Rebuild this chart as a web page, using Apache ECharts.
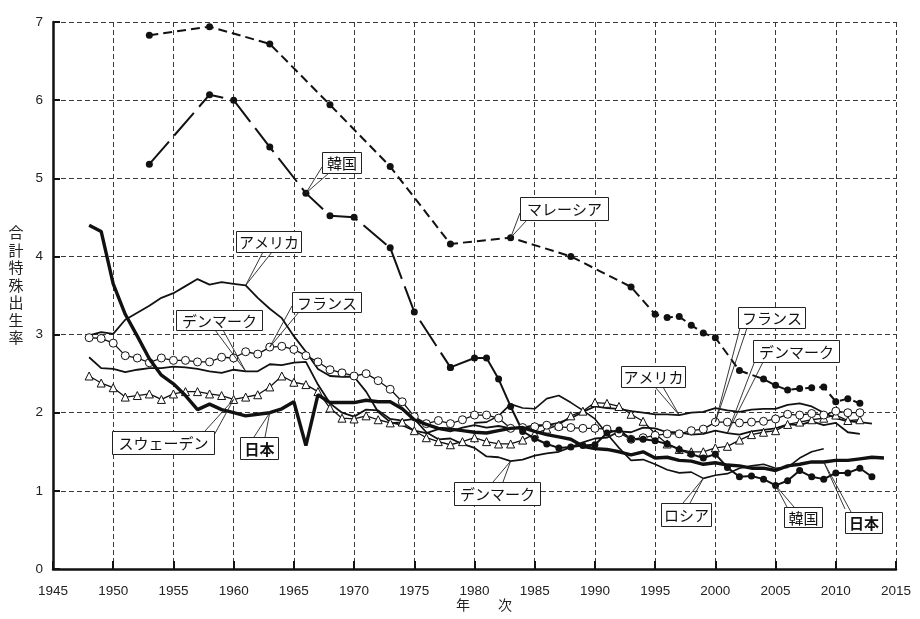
<!DOCTYPE html>
<html><head><meta charset="utf-8">
<script src="https://cdn.jsdelivr.net/npm/echarts@6/dist/echarts.min.js"></script>
<style>html,body{margin:0;padding:0;background:#fff}#c{width:920px;height:619px}</style>
</head><body><div id="c"></div>
<script>
// ---- data ----
const jpYears = [1948,1949,1950,1951,1952,1953,1954,1955,1956,1957,1958,1959,1960,1961,1962,1963,1964,1965,1966,1967,1968,1969,1970,1971,1972,1973,1974,1975,1976,1977,1978,1979,1980,1981,1982,1983,1984,1985,1986,1987,1988,1989,1990,1991,1992,1993,1994,1995,1996,1997,1998,1999,2000,2001,2002,2003,2004,2005,2006,2007,2008,2009,2010,2011,2012,2013,2014];
const jpVals  = [4.40,4.32,3.65,3.26,2.98,2.69,2.48,2.37,2.22,2.04,2.11,2.04,2.00,1.96,1.98,2.00,2.05,2.14,1.58,2.23,2.13,2.13,2.13,2.16,2.14,2.14,2.05,1.91,1.85,1.80,1.79,1.77,1.75,1.74,1.77,1.80,1.81,1.76,1.72,1.69,1.66,1.57,1.54,1.53,1.50,1.46,1.50,1.42,1.43,1.39,1.38,1.34,1.36,1.33,1.32,1.29,1.29,1.26,1.32,1.34,1.37,1.37,1.39,1.39,1.41,1.43,1.42];

const krYears = [1953,1958,1960,1963,1966,1968,1970,1973,1975,1978,1980,1981,1982,1983,1984,1985,1986,1987,1988,1989,1990,1991,1992,1993,1994,1995,1996,1997,1998,1999,2000,2001,2002,2003,2004,2005,2006,2007,2008,2009,2010,2011,2012,2013];
const krVals  = [5.18,6.07,6.00,5.40,4.81,4.52,4.50,4.11,3.29,2.58,2.70,2.70,2.43,2.08,1.76,1.67,1.60,1.55,1.56,1.58,1.59,1.74,1.78,1.66,1.66,1.64,1.60,1.53,1.47,1.42,1.47,1.30,1.18,1.19,1.15,1.07,1.13,1.26,1.18,1.15,1.23,1.23,1.29,1.18];

const myYears = [1953,1958,1963,1968,1973,1978,1983,1988,1993,1995,1996,1997,1998,1999,2000,2002,2004,2005,2006,2007,2008,2009,2010,2011,2012];
const myVals  = [6.83,6.94,6.72,5.94,5.15,4.16,4.24,4.00,3.61,3.26,3.22,3.23,3.12,3.02,2.96,2.54,2.43,2.35,2.29,2.31,2.32,2.33,2.14,2.18,2.12];

const usYears = [1948,1949,1950,1951,1952,1953,1954,1955,1956,1957,1958,1959,1960,1961,1962,1963,1964,1965,1966,1967,1968,1969,1970,1971,1972,1973,1974,1975,1976,1977,1978,1979,1980,1981,1982,1983,1984,1985,1986,1987,1988,1989,1990,1991,1992,1993,1994,1995,1996,1997,1998,1999,2000,2001,2002,2003,2004,2005,2006,2007,2008,2009,2010,2011,2012,2013];
const usVals  = [2.99,3.03,3.01,3.19,3.28,3.37,3.47,3.53,3.62,3.71,3.64,3.67,3.65,3.63,3.47,3.33,3.21,2.98,2.78,2.56,2.47,2.46,2.46,2.27,2.01,1.88,1.84,1.77,1.74,1.79,1.76,1.81,1.84,1.81,1.83,1.80,1.81,1.84,1.84,1.87,1.93,2.01,2.08,2.06,2.05,2.02,2.00,1.98,1.98,1.97,2.00,2.01,2.06,2.03,2.01,2.04,2.05,2.05,2.10,2.12,2.08,2.00,1.93,1.89,1.88,1.86];

const frYears = [1948,1949,1950,1951,1952,1953,1954,1955,1956,1957,1958,1959,1960,1961,1962,1963,1964,1965,1966,1967,1968,1969,1970,1971,1972,1973,1974,1975,1976,1977,1978,1979,1980,1981,1982,1983,1984,1985,1986,1987,1988,1989,1990,1991,1992,1993,1994,1995,1996,1997,1998,1999,2000,2001,2002,2003,2004,2005,2006,2007,2008,2009,2010,2011,2012];
const frVals  = [2.96,2.95,2.89,2.73,2.70,2.64,2.70,2.67,2.67,2.65,2.65,2.71,2.70,2.78,2.75,2.84,2.85,2.81,2.73,2.65,2.55,2.51,2.47,2.50,2.41,2.30,2.14,1.95,1.86,1.90,1.86,1.91,1.97,1.97,1.93,1.80,1.81,1.82,1.84,1.82,1.81,1.80,1.80,1.79,1.74,1.66,1.68,1.71,1.73,1.73,1.77,1.79,1.88,1.88,1.87,1.88,1.89,1.92,1.98,1.97,1.99,1.97,2.02,2.00,2.00];

const dkYears = [1948,1949,1950,1951,1952,1953,1954,1955,1956,1957,1958,1959,1960,1961,1962,1963,1964,1965,1966,1967,1968,1969,1970,1971,1972,1973,1974,1975,1976,1977,1978,1979,1980,1981,1982,1983,1984,1985,1986,1987,1988,1989,1990,1991,1992,1993,1994,1995,1996,1997,1998,1999,2000,2001,2002,2003,2004,2005,2006,2007,2008,2009,2010,2011,2012];
const dkVals  = [2.71,2.57,2.56,2.52,2.55,2.57,2.57,2.59,2.58,2.56,2.53,2.51,2.55,2.53,2.53,2.62,2.61,2.64,2.65,2.36,2.12,2.00,1.95,2.04,2.03,1.92,1.90,1.92,1.75,1.66,1.67,1.60,1.55,1.44,1.43,1.38,1.40,1.45,1.48,1.50,1.56,1.62,1.67,1.68,1.76,1.75,1.81,1.80,1.75,1.75,1.72,1.73,1.77,1.74,1.72,1.76,1.78,1.80,1.85,1.84,1.89,1.84,1.87,1.75,1.73];

const seYears = [1948,1949,1950,1951,1952,1953,1954,1955,1956,1957,1958,1959,1960,1961,1962,1963,1964,1965,1966,1967,1968,1969,1970,1971,1972,1973,1974,1975,1976,1977,1978,1979,1980,1981,1982,1983,1984,1985,1986,1987,1988,1989,1990,1991,1992,1993,1994,1995,1996,1997,1998,1999,2000,2001,2002,2003,2004,2005,2006,2007,2008,2009,2010,2011,2012];
const seVals  = [2.47,2.38,2.32,2.20,2.22,2.24,2.17,2.24,2.27,2.27,2.24,2.22,2.17,2.20,2.23,2.33,2.47,2.39,2.36,2.27,2.06,1.93,1.92,1.96,1.91,1.87,1.88,1.77,1.68,1.63,1.59,1.63,1.68,1.63,1.60,1.60,1.65,1.73,1.79,1.84,1.96,2.02,2.13,2.12,2.08,1.98,1.89,1.73,1.60,1.53,1.50,1.50,1.55,1.57,1.65,1.72,1.75,1.77,1.85,1.88,1.91,1.93,1.97,1.90,1.91];

const ruYears = [1980,1981,1982,1983,1984,1985,1986,1987,1988,1989,1990,1991,1992,1993,1994,1995,1996,1997,1998,1999,2000,2001,2002,2003,2004,2005,2006,2007,2008,2009];
const ruVals  = [1.87,1.88,1.96,2.11,2.06,2.05,2.18,2.22,2.13,2.03,1.92,1.73,1.55,1.39,1.40,1.34,1.27,1.23,1.24,1.16,1.20,1.22,1.29,1.32,1.34,1.29,1.30,1.42,1.50,1.54];

const xTicks = [1945,1950,1955,1960,1965,1970,1975,1980,1985,1990,1995,2000,2005,2010,2015];
const yTicks = [0,1,2,3,4,5,6,7];
const krDashedUntil = 1978;

// ---- build ----
const zip = (ys, vs) => ys.map((y,i)=>[y, vs[i]]);
const krAll = zip(krYears, krVals);
const krEarly = krAll.filter(p => p[0] <= krDashedUntil);
const krLate = krAll.filter(p => p[0] >= krDashedUntil);

const black = '#111';
function line(name, data, o) {
  return Object.assign({
    type:'line', name, data, animation:false, symbol:'none',
    lineStyle:{color:black, width:2}, itemStyle:{color:black},
    z: 3
  }, o);
}
const series = [
  line('デンマーク', zip(dkYears, dkVals), {lineStyle:{color:black,width:1.8}}),
  line('ロシア', zip(ruYears, ruVals), {lineStyle:{color:black,width:1.6}}),
  line('アメリカ', zip(usYears, usVals), {lineStyle:{color:black,width:1.8}}),
  line('スウェーデン', zip(seYears, seVals), {symbol:'triangle', symbolSize:8, lineStyle:{color:black,width:1.3}, itemStyle:{color:'#fff', borderColor:black, borderWidth:1}}),
  line('フランス', zip(frYears, frVals), {symbol:'circle', symbolSize:8, lineStyle:{color:black,width:1.3}, itemStyle:{color:'#fff', borderColor:black, borderWidth:1}}),
  line('マレーシア', zip(myYears, myVals), {symbol:'circle', symbolSize:7, lineStyle:{color:black,width:2,type:[9,5]}}),
  line('韓国a', krEarly, {symbol:'circle', symbolSize:7, lineStyle:{color:black,width:2,type:[30,8]}}),
  line('韓国', krLate, {symbol:'circle', symbolSize:7, lineStyle:{color:black,width:2}}),
  line('日本', zip(jpYears, jpVals), {lineStyle:{color:black,width:3.4}, z:4})
];

const chart = echarts.init(document.getElementById('c'), null, {renderer:'canvas'});
const font = '"Liberation Sans", Arial, sans-serif';
const jfont = '"Noto Sans CJK JP", sans-serif';
chart.setOption({
  animation:false,
  backgroundColor:'#fff',
  grid:{left:53, right:24, top:22, bottom:50, containLabel:false},
  xAxis:{type:'value', min:xTicks[0], max:xTicks[xTicks.length-1], interval:5,
    axisLine:{lineStyle:{color:black,width:2.5}},
    axisTick:{inside:true, length:8, lineStyle:{color:black,width:2}},
    axisLabel:{color:'#222', fontSize:13.5, fontFamily:font, margin:15, formatter:v=>String(v)},
    splitLine:{show:true, lineStyle:{color:'#3a3a3a', width:1, type:[5,3]}}},
  yAxis:{type:'value', min:yTicks[0], max:yTicks[yTicks.length-1], interval:1,
    axisLine:{show:true, lineStyle:{color:black,width:2.5}},
    axisTick:{show:true, inside:true, length:7, lineStyle:{color:black,width:2}},
    axisLabel:{color:'#222', fontSize:13.5, fontFamily:font, margin:10},
    splitLine:{show:true, lineStyle:{color:'#3a3a3a', width:1, type:[5,3]}}},
  series
});

// ---- callout labels ----
function valAt(ys, vs, y){ return [y, vs[ys.indexOf(y)]]; }
const callouts = [
  {t:'韓国', box:[322,152,39,21], b:[[322,167],[329,173]], p:valAt(krYears,krVals,1966)},
  {t:'マレーシア', box:[520,197,88,23], b:[[520,213],[527,220]], p:valAt(myYears,myVals,1983)},
  {t:'アメリカ', box:[236,231,65,21], b:[[263,252],[272,252]], p:valAt(usYears,usVals,1961)},
  {t:'フランス', box:[292,292,69,20], b:[[292,306],[299,312]], p:valAt(frYears,frVals,1963)},
  {t:'デンマーク', box:[176,310,86,20], b:[[215,330],[223,330]], p:valAt(dkYears,dkVals,1961)},
  {t:'スウェーデン', box:[112,431,102,23], b:[[205,431],[213,437]], p:valAt(seYears,seVals,1960)},
  {t:'日本', box:[240,437,38,22], b:[[254,437],[265,437]], p:valAt(jpYears,jpVals,1963), bold:true},
  {t:'デンマーク', box:[454,482,86,23], b:[[493,482],[503,482]], p:valAt(dkYears,dkVals,1983)},
  {t:'アメリカ', box:[621,366,64,21], b:[[655,387],[663,387]], p:valAt(usYears,usVals,1997)},
  {t:'フランス', box:[738,307,67,21], b:[[740,328],[747,328]], p:valAt(frYears,frVals,2000)},
  {t:'デンマーク', box:[753,340,86,22], b:[[756,358],[763,362]], p:valAt(dkYears,dkVals,2001)},
  {t:'ロシア', box:[661,503,50,23], b:[[683,503],[690,503]], p:valAt(ruYears,ruVals,1999)},
  {t:'韓国', box:[784,507,38,20], b:[[787,507],[794,507]], p:valAt(krYears,krVals,2005)},
  {t:'日本', box:[845,512,37,21], b:[[845,509],[851,512]], p:valAt(jpYears,jpVals,2009), bold:true}
];
const g = [];
callouts.forEach(c => {
  const tp = chart.convertToPixel({gridIndex:0}, c.p);
  g.push({type:'polyline', z:50, silent:true,
    shape:{points:[c.b[0], tp, c.b[1]]},
    style:{stroke:'#222', lineWidth:0.9, fill:null}});
  g.push({type:'rect', z:51, silent:true,
    shape:{x:c.box[0]+0.5, y:c.box[1]+0.5, width:c.box[2], height:c.box[3]},
    style:{fill:'#fff', stroke:'#222', lineWidth:1}});
  g.push({type:'text', z:52, silent:true,
    x:c.box[0]+c.box[2]/2+0.5, y:c.box[1]+c.box[3]/2+1,
    style:{text:c.t, fill:'#111', font:(c.bold?'bold ':'')+'15px '+jfont, align:'center', verticalAlign:'middle'}});
});
g.push({type:'text', z:52, silent:true, x:16, y:285,
  style:{text:'合\n計\n特\n殊\n出\n生\n率', fill:'#222', font:'15px '+jfont, lineHeight:17.5, align:'center', verticalAlign:'middle'}});
g.push({type:'text', z:52, silent:true, x:484, y:605,
  style:{text:'年　　次', fill:'#222', font:'14px '+jfont, align:'center', verticalAlign:'middle'}});
chart.setOption({graphic:g});
</script></body></html>
